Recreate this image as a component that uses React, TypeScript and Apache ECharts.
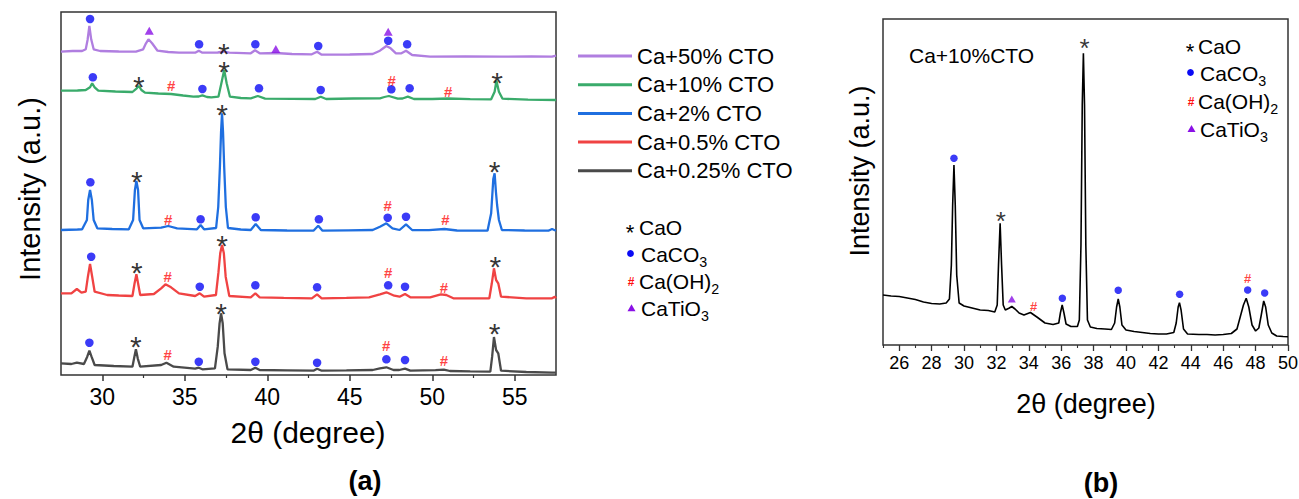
import React, { useEffect, useRef } from 'react';
import * as echarts from 'echarts';

const FONT = "'Liberation Sans', Arial, Helvetica, sans-serif";

// ---------- panel (a) ----------
const namesA = ['Ca+50% CTO', 'Ca+10% CTO', 'Ca+2% CTO', 'Ca+0.5% CTO', 'Ca+0.25% CTO'];
const colorsA = ['#B07EE0', '#3AAB6B', '#1F6FE0', '#F04343', '#4A4A4A'];

const ca50: number[][] = [[27.5,325.3],[28.2,326],[28.78,326],[29.0,327.7],[29.11,337],[29.22,351],[29.33,337.7],[29.48,327.7],[29.87,326],[31.0,325.5],[32.04,325.3],[32.48,327.7],[32.65,333.7],[32.8,337.7],[33.02,333.7],[33.35,326.3],[34.0,325],[34.65,324.3],[35.63,324.3],[35.85,326.3],[36.07,324.3],[37.0,324.5],[37.37,325.5],[37.7,324.3],[39.0,323.7],[39.26,326.7],[39.54,323.7],[40.52,324],[41.5,323],[42.7,322.7],[43.02,325.3],[43.3,322.3],[45.0,322.5],[46.39,323],[46.83,326.3],[47.05,329],[47.22,331],[47.48,328.7],[47.8,323.7],[48.13,323.7],[48.41,326.3],[48.78,322],[49.87,320.3],[52.0,320.5],[54.2,320.3],[56.0,320.5],[57.26,320.3],[57.5,321.3]];
const ca10: number[][] = [[27.5,286.3],[28.5,286.5],[29.0,287],[29.26,289.7],[29.39,293.7],[29.54,289.7],[29.76,286.3],[30.8,285.5],[31.83,285],[32.09,288.7],[32.22,291],[32.37,287],[32.59,284.3],[33.4,283.5],[34.17,283],[34.9,281.5],[35.52,280.3],[35.85,280.5],[36.07,281.7],[36.35,280],[36.61,279.7],[37.04,280.3],[37.22,293.7],[37.39,307],[37.54,293.7],[37.74,280.3],[38.4,279],[39.0,278.7],[39.43,281],[39.87,278.3],[41.5,278.2],[42.91,278],[43.24,280.3],[43.57,278],[45.2,278.5],[46.83,278.7],[47.1,280],[47.37,281],[47.91,278.3],[48.2,278.5],[48.52,280.3],[48.89,278],[50.0,278],[50.96,278.5],[52.3,277.8],[53.57,277.7],[53.78,285.3],[53.89,296.3],[54.04,285.3],[54.26,278.3],[55.8,277.3],[57.5,277]];
const ca2: number[][] = [[27.5,147],[28.5,147.5],[28.78,147.7],[29.07,157],[29.15,177],[29.26,187],[29.37,177],[29.48,157],[29.7,148.7],[30.6,148],[31.61,147.7],[31.87,157],[31.98,187],[32.07,196],[32.17,187],[32.26,157],[32.48,148.7],[33.57,149.3],[34.0,151],[34.54,148.7],[35.74,147.7],[35.96,152],[36.17,147.7],[36.9,149],[37.03,170],[37.13,210],[37.2,245],[37.26,263.7],[37.32,245],[37.39,210],[37.49,170],[37.62,149],[38.4,147.5],[39.0,147],[39.3,153],[39.61,147],[41.2,146.5],[42.8,146.3],[43.09,151.3],[43.35,146.3],[44.9,146.7],[46.39,147],[46.83,150.3],[47.22,153.7],[47.59,148.7],[48.02,147],[48.41,152.7],[48.78,147],[49.8,146.8],[50.74,148],[51.5,146.5],[53.35,146.3],[53.57,163.7],[53.7,198],[53.78,203.7],[53.86,185],[53.93,172],[54.04,157],[54.22,147],[55.6,146.5],[57.04,146.3],[57.26,148],[57.5,146.3]];
const ca05: number[][] = [[27.5,83.7],[28.13,83.7],[28.46,88],[28.74,84.3],[29.0,85.3],[29.13,100.3],[29.26,113],[29.39,100.3],[29.54,85.3],[30.3,82],[31.0,81.5],[31.83,81],[31.96,93.7],[32.07,102.7],[32.17,93.7],[32.3,82],[33.13,83],[33.57,88.7],[33.83,92.7],[34.17,89.7],[34.65,83.7],[35.63,81],[35.91,83.7],[36.17,80.3],[36.89,82],[37.04,104.3],[37.15,123.7],[37.26,132],[37.37,123.7],[37.48,100.3],[37.7,81],[39.0,79.7],[39.28,83.7],[39.54,79.7],[41.0,79.2],[42.7,78.7],[43.02,82.7],[43.3,78.7],[44.8,79.2],[46.17,79.7],[46.83,82.7],[47.22,84.7],[47.7,81.3],[48.02,80.3],[48.35,83],[48.67,79.7],[49.87,79.7],[50.52,82.7],[50.85,82],[51.28,78.7],[52.5,78.7],[53.46,78.7],[53.61,93.7],[53.74,108.7],[53.87,97],[54.0,93.7],[54.17,80.3],[55.7,78.7],[57.26,78.7],[57.43,80.3],[57.5,78.7]];
const ca025: number[][] = [[27.5,13.7],[28.13,13],[28.46,14.3],[28.89,13],[29.09,20.3],[29.22,26.3],[29.35,20.3],[29.54,12],[30.7,11],[31.83,10.3],[31.93,18.7],[32.04,27.7],[32.15,18.7],[32.3,10.3],[33.57,12],[33.89,14.3],[34.33,10.3],[35.63,8.3],[35.85,9.3],[36.07,7.7],[36.83,8.7],[37.0,30.3],[37.11,53.7],[37.2,63.7],[37.3,53.7],[37.41,23.7],[37.59,7.7],[39.0,7],[39.28,9.3],[39.54,7],[41.2,6.7],[42.8,6.3],[43.02,8.3],[43.3,6.3],[44.8,6.6],[46.39,7],[46.83,8.7],[47.22,9.7],[47.65,7],[48.0,7],[48.35,8.3],[48.67,6.3],[50.2,6.8],[50.7,7.3],[51.07,6],[52.3,5.6],[53.52,5.3],[53.63,20.3],[53.74,40],[53.87,27],[54.0,23.7],[54.17,6.3],[55.7,5],[57.26,4.3],[57.5,4.3]];

const circlesA: number[][] = [[29.26,358],[35.87,332.7],[39.28,332.7],[43.09,331],[47.33,336.3],[48.48,332.7],[29.43,299.7],[36.07,288],[39.5,288.7],[43.24,287],[47.52,287.7],[48.63,288.7],[29.28,194.7],[35.96,157.7],[39.3,159.7],[43.13,157.7],[47.3,159.3],[48.41,160.3],[29.33,120.3],[35.91,90.3],[39.28,91.7],[43.02,89.7],[47.33,91.7],[48.35,90.3],[29.22,34.3],[35.85,15.3],[39.28,15.3],[43.02,14.3],[47.22,17.7],[48.35,17]];
const starsA: number[][] = [[37.37,330.3],[32.22,297],[37.39,312],[53.93,301],[37.26,269.3],[32.1,202.7],[53.78,212.7],[32.1,111],[37.26,138],[53.83,117],[32.04,37],[37.2,70.3],[53.78,50.3]];
const hashesA: number[][] = [[34.17,292],[47.54,297],[50.96,285.3],[34.0,158],[47.3,172],[50.8,157.7],[33.96,100.3],[47.33,104.7],[50.7,89.7],[33.96,22.7],[47.2,31.3],[50.7,17]];
const trianglesA: number[][] = [[32.85,346.3],[40.52,328],[47.33,345.3]];

const xTicksA = [30, 35, 40, 45, 50, 55];
const xMinorA = [32.5, 37.5, 42.5, 47.5, 52.5];

// ---------- panel (b) ----------
const ca10b: number[][] = [[25.0,50],[25.5,49],[26.0,48.5],[26.5,47],[27.0,45.5],[27.5,43],[28.0,41.5],[28.5,41],[28.9,42],[29.1,46],[29.22,80],[29.3,140],[29.38,180],[29.46,140],[29.55,70],[29.7,42],[30.0,39],[30.5,37],[31.0,35],[31.5,34.5],[31.9,33],[32.05,40],[32.13,80],[32.23,121.7],[32.32,80],[32.42,40],[32.55,35],[32.8,37],[32.95,38.5],[33.15,36],[33.4,32],[33.7,30],[34.1,32.5],[34.5,28],[35.0,22],[35.5,20.5],[35.85,22],[35.95,32],[36.06,40],[36.17,32],[36.3,21],[36.6,18.5],[37.0,18.5],[37.12,25],[37.22,100],[37.3,240],[37.37,291.7],[37.44,240],[37.52,100],[37.62,25],[37.8,18],[38.2,16.5],[38.7,16],[39.1,15.5],[39.3,22],[39.42,38],[39.52,46],[39.62,38],[39.75,20],[40.0,15],[40.5,13.5],[41.0,12.5],[41.5,11.5],[42.0,11],[42.5,11],[42.95,12.5],[43.1,22],[43.22,38],[43.3,42.3],[43.4,35],[43.55,16],[43.8,11],[44.5,10.5],[45.0,10.5],[45.5,10],[46.0,10.5],[46.5,11.5],[46.85,16],[47.05,28],[47.25,40],[47.42,46.7],[47.58,38],[47.78,20],[48.0,14],[48.2,17],[48.35,30],[48.5,44],[48.62,38],[48.78,20],[49.0,12],[49.3,9],[49.7,8.5],[50.0,8.3]];
const circlesB: number[][] = [[29.38,186.7],[36.07,46.7],[39.52,54.7],[43.31,50.7],[47.51,55],[48.56,52]];
const starsB: number[][] = [[32.27,130],[37.44,303.3]];
const hashesB: number[][] = [[34.29,39],[47.51,66.7]];
const trianglesB: number[][] = [[32.95,46]];

const xTicksB = [26, 28, 30, 32, 34, 36, 38, 40, 42, 44, 46, 48, 50];
const xMinorB = [25, 27, 29, 31, 33, 35, 37, 39, 41, 43, 45, 47, 49];

const phaseLabels = ['{m|CaO}', '{m|CaCO}{s|3}', '{m|Ca(OH)}{s|2}', '{m|CaTiO}{s|3}'];

const C_CIRCLE = '#0A0AF5';
const C_HASH = '#FF1010';
const C_TRI = '#8A10E6';
const AX = '#333333';

function markerSeries(xi: number, data: { c: number[][]; s: number[][]; h: number[][]; t: number[][] }, starSize: number, circSize: number, triSize: number[], hashSize: number) {
  const yi = xi === 0 ? 0 : 1;
  return [
    { type: 'scatter', xAxisIndex: xi, yAxisIndex: yi, data: data.c, symbol: 'circle', symbolSize: circSize, itemStyle: { color: C_CIRCLE }, silent: true, z: 5 },
    { type: 'scatter', xAxisIndex: xi, yAxisIndex: yi, data: data.t, symbol: 'triangle', symbolSize: triSize, itemStyle: { color: C_TRI }, silent: true, z: 5 },
    { type: 'scatter', xAxisIndex: xi, yAxisIndex: yi, data: data.s, symbol: 'circle', symbolSize: 1, itemStyle: { color: 'rgba(0,0,0,0)' }, silent: true, z: 5,
      label: { show: true, position: 'inside', formatter: '*', fontSize: starSize, color: '#000', fontFamily: FONT, offset: [0, starSize * 0.23] } },
    { type: 'scatter', xAxisIndex: xi, yAxisIndex: yi, data: data.h, symbol: 'circle', symbolSize: 1, itemStyle: { color: 'rgba(0,0,0,0)' }, silent: true, z: 5,
      label: { show: true, position: 'inside', formatter: '#', fontSize: hashSize, fontWeight: 'bold', color: C_HASH, fontFamily: FONT } },
  ];
}

function phaseLegend(sx: number, tx: number, ys: number[], fs: number, starFs: number) {
  const els: any[] = [];
  els.push({ type: 'text', x: sx, y: ys[0] + starFs * 0.23, style: { text: '*', fontSize: starFs, fill: '#000', fontFamily: FONT, align: 'center', verticalAlign: 'middle' } });
  els.push({ type: 'circle', shape: { cx: sx + 0.5, cy: ys[1] - 0.5, r: 3.4 }, style: { fill: C_CIRCLE } });
  els.push({ type: 'text', x: sx + 1, y: ys[2], style: { text: '#', fontSize: 12, fontWeight: 'bold', fill: C_HASH, fontFamily: FONT, align: 'center', verticalAlign: 'middle' } });
  els.push({ type: 'polygon', shape: { points: [[sx - 2.5, ys[3] + 3], [sx + 5.5, ys[3] + 3], [sx + 1.5, ys[3] - 4]] }, style: { fill: C_TRI } });
  ys.forEach((y, i) => {
    els.push({ type: 'text', x: tx + (i === 1 || i === 3 ? 2 : 0), y, style: { text: phaseLabels[i], fill: '#000', fontFamily: FONT, verticalAlign: 'middle', align: 'left',
      rich: { m: { fontSize: fs, lineHeight: fs + 8, fontFamily: FONT, fill: '#000', verticalAlign: 'middle' }, s: { fontSize: fs * 0.68, lineHeight: fs * 0.68, fontFamily: FONT, fill: '#000', verticalAlign: 'bottom' } } } });
  });
  return els;
}

export default function App() {
  const ref = useRef<HTMLDivElement>(null);
  useEffect(() => {
    if (!ref.current) return;
    const chart = echarts.init(ref.current, undefined, { renderer: 'svg' });
    const curvesA = [ca50, ca10, ca2, ca05, ca025];
    const option: any = {
      animation: false,
      backgroundColor: '#fff',
      textStyle: { fontFamily: FONT },
      grid: [
        { left: 61, top: 12, width: 495, height: 363, show: true, borderColor: AX, borderWidth: 1.5, backgroundColor: 'transparent', containLabel: false, outerBoundsMode: 'none' },
        { left: 883, top: 19, width: 405, height: 326, show: true, borderColor: AX, borderWidth: 1.5, backgroundColor: 'transparent', containLabel: false, outerBoundsMode: 'none' },
      ],
      xAxis: [
        { type: 'value', gridIndex: 0, min: 27.5, max: 57.5, position: 'bottom', axisLine: { show: false }, splitLine: { show: false },
          axisTick: { show: true, length: 6, inside: false, lineStyle: { color: AX, width: 1.5 }, customValues: xTicksA },
          axisLabel: { show: true, customValues: xTicksA, fontSize: 23, color: '#000', margin: 10, fontFamily: FONT } },
        { type: 'value', gridIndex: 0, min: 27.5, max: 57.5, position: 'bottom', axisLine: { show: false }, splitLine: { show: false },
          axisTick: { show: true, length: 3, inside: false, lineStyle: { color: AX, width: 1.2 }, customValues: xMinorA },
          axisLabel: { show: false } },
        { type: 'value', gridIndex: 1, min: 25, max: 50, position: 'bottom', axisLine: { show: false }, splitLine: { show: false },
          axisTick: { show: true, length: 6, inside: false, lineStyle: { color: AX, width: 1.3 }, customValues: xTicksB },
          axisLabel: { show: true, customValues: xTicksB, fontSize: 18, color: '#000', margin: 9, fontFamily: FONT } },
        { type: 'value', gridIndex: 1, min: 25, max: 50, position: 'bottom', axisLine: { show: false }, splitLine: { show: false },
          axisTick: { show: true, length: 3, inside: false, lineStyle: { color: AX, width: 1.1 }, customValues: xMinorB },
          axisLabel: { show: false } },
      ],
      yAxis: [
        { type: 'value', gridIndex: 0, min: 2, max: 365, axisLine: { show: false }, axisTick: { show: false }, axisLabel: { show: false }, splitLine: { show: false } },
        { type: 'value', gridIndex: 1, min: 0, max: 326, axisLine: { show: false }, axisTick: { show: false }, axisLabel: { show: false }, splitLine: { show: false } },
      ],
      legend: {
        data: namesA, orient: 'vertical', left: 573, top: 40, icon: 'rect', itemWidth: 54, itemHeight: 3, itemGap: 6.7,
        selectedMode: false, textStyle: { fontSize: 22, color: '#000', fontFamily: FONT, lineHeight: 22 },
      },
      series: [
        ...curvesA.map((d, i) => ({
          type: 'line', name: namesA[i], xAxisIndex: 0, yAxisIndex: 0, data: d, showSymbol: false, symbol: 'none',
          lineStyle: { color: colorsA[i], width: 2.3 }, itemStyle: { color: colorsA[i] }, silent: true, z: 3,
        })),
        ...markerSeries(0, { c: circlesA, s: starsA, h: hashesA, t: trianglesA }, 30, 8.5, [9, 8], 15),
        { type: 'line', name: 'Ca+10%CTO (b)', xAxisIndex: 2, yAxisIndex: 1, data: ca10b, showSymbol: false, symbol: 'none',
          lineStyle: { color: '#000', width: 1.6 }, itemStyle: { color: '#000' }, silent: true, z: 3 },
        ...markerSeries(2, { c: circlesB, s: starsB, h: hashesB, t: trianglesB }, 26, 7.5, [8, 7], 13),
      ],
      graphic: [
        { type: 'text', x: 30, y: 189, rotation: Math.PI / 2, style: { text: 'Intensity (a.u.)', fontSize: 29, fill: '#000', fontFamily: FONT, align: 'center', verticalAlign: 'middle' } },
        { type: 'text', x: 308, y: 432, style: { text: '2θ (degree)', fontSize: 30, fill: '#000', fontFamily: FONT, align: 'center', verticalAlign: 'middle' } },
        { type: 'text', x: 365, y: 481, style: { text: '(a)', fontSize: 27, fontWeight: 'bold', fill: '#000', fontFamily: FONT, align: 'center', verticalAlign: 'middle' } },
        { type: 'text', x: 860, y: 171, rotation: Math.PI / 2, style: { text: 'Intensity (a.u.)', fontSize: 27, fill: '#000', fontFamily: FONT, align: 'center', verticalAlign: 'middle' } },
        { type: 'text', x: 1086, y: 404, style: { text: '2θ (degree)', fontSize: 27, fill: '#000', fontFamily: FONT, align: 'center', verticalAlign: 'middle' } },
        { type: 'text', x: 1101, y: 483, style: { text: '(b)', fontSize: 27, fontWeight: 'bold', fill: '#000', fontFamily: FONT, align: 'center', verticalAlign: 'middle' } },
        { type: 'text', x: 909, y: 55, style: { text: 'Ca+10%CTO', fontSize: 21, fill: '#000', fontFamily: FONT, align: 'left', verticalAlign: 'middle' } },
        ...phaseLegend(630, 639, [227.7, 254, 281.7, 308.3], 21, 22),
        ...phaseLegend(1190, 1198, [46.7, 73, 101.7, 129], 21, 22),
      ],
    };
    chart.setOption(option);
    return () => chart.dispose();
  }, []);
  return <div ref={ref} style={{ position: 'absolute', left: 0, top: 0, width: 1299, height: 499, background: '#fff' }} />;
}
